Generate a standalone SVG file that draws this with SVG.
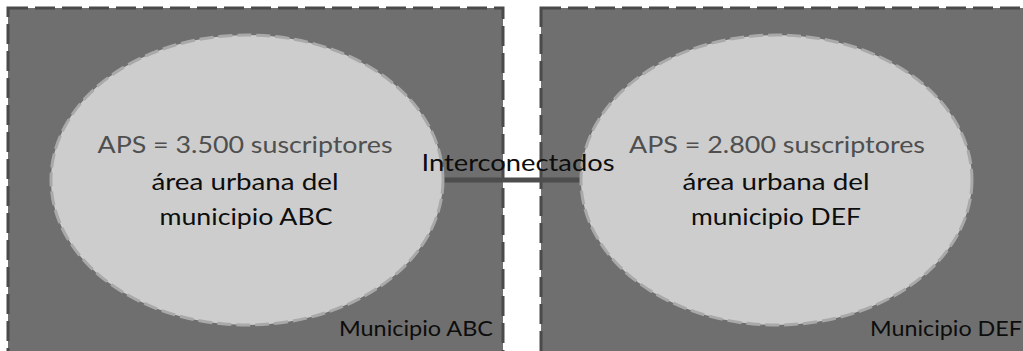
<svg xmlns="http://www.w3.org/2000/svg" width="1023" height="351" viewBox="0 0 1023 351">
<style>
.muni{fill:#6f6f6f;stroke:#4a4a4a;stroke-width:3;stroke-dasharray:20 7}
.area{fill:#cdcdcd;stroke:#a9a9a9;stroke-width:3;stroke-dasharray:14 5}
.t{font-family:Lato,"Open Sans","Liberation Sans",sans-serif;text-anchor:middle}
.big{font-size:24px}
.gray{fill:#4f4f4f}
.blk{fill:#0d0d0d}
.small{font-size:22px;fill:#0d0d0d}
</style>
<rect width="1023" height="351" fill="#ffffff"/>
<g id="municipio-abc">
<rect class="muni" x="8" y="8" width="495" height="360"/>
<text class="t small" x="416" y="336" textLength="154" lengthAdjust="spacingAndGlyphs">Municipio ABC</text>
</g>
<g id="municipio-def">
<rect class="muni" x="541" y="8" width="500" height="360"/>
<text class="t small" x="946" y="336" textLength="152" lengthAdjust="spacingAndGlyphs">Municipio DEF</text>
</g>
<g id="connectors">
<line x1="440" y1="180" x2="584" y2="180" stroke="#4d4d4d" stroke-width="5"/>
</g>
<g id="area-abc">
<ellipse class="area" cx="247" cy="180" rx="196" ry="145"/>
<text class="t big gray" x="245" y="153" textLength="295" lengthAdjust="spacingAndGlyphs">APS = 3.500 suscriptores</text>
<text class="t big blk" x="245" y="190" textLength="187" lengthAdjust="spacingAndGlyphs">área urbana del</text>
<text class="t big blk" x="246" y="225" textLength="173" lengthAdjust="spacingAndGlyphs">municipio ABC</text>
</g>
<g id="area-def">
<ellipse class="area" cx="776.5" cy="180" rx="195.5" ry="145"/>
<text class="t big gray" x="777" y="153" textLength="296" lengthAdjust="spacingAndGlyphs">APS = 2.800 suscriptores</text>
<text class="t big blk" x="776" y="190" textLength="187" lengthAdjust="spacingAndGlyphs">área urbana del</text>
<text class="t big blk" x="776" y="225" textLength="170" lengthAdjust="spacingAndGlyphs">municipio DEF</text>
</g>
<g id="label-interconectados">
<text class="t big blk" x="518" y="171" textLength="193" lengthAdjust="spacingAndGlyphs">Interconectados</text>
</g>
</svg>
